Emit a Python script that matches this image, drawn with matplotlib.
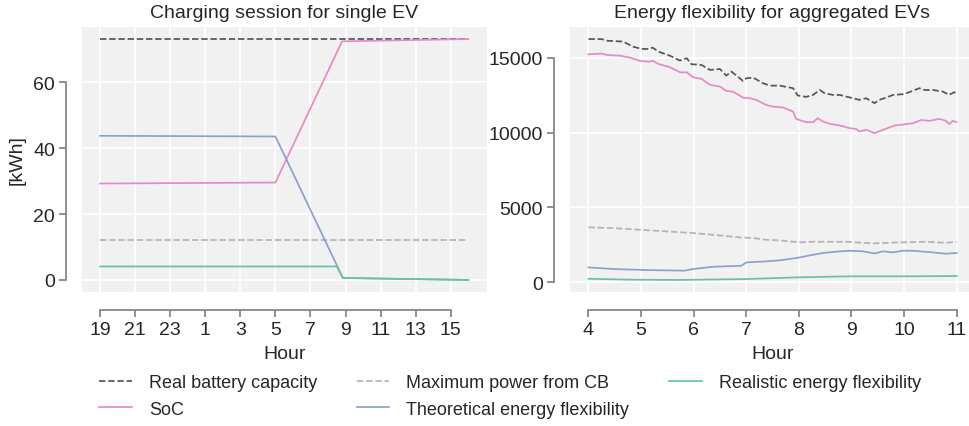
import matplotlib
matplotlib.use('Agg')
import matplotlib.pyplot as plt
import numpy as np

plt.rcParams['font.family'] = ['Liberation Sans', 'DejaVu Sans']
plt.rcParams['text.color'] = '#262626'
plt.rcParams['axes.labelcolor'] = '#262626'
plt.rcParams['xtick.color'] = '#262626'
plt.rcParams['ytick.color'] = '#262626'

# colours
C_CAP = '#555555'
C_CB = '#b3b3b3'
C_SOC = '#e78ac3'
C_THEO = '#8da0cb'
C_REAL = '#66c2a5'

# --- single EV session (hours, next day continues past 24) ---
cap_x = [19, 40]
cap_single = [73.2, 73.2]
cb_x = [19, 40]
cb_single = [12.2, 12.2]
soc_x = [19, 29, 32.8, 40]
soc_single = [29.3, 29.6, 72.5, 73.2]
theo_x = [19, 29, 32.85, 40]
theo_single = [43.8, 43.6, 0.6, 0.0]
real_x = [19, 32.5, 32.85, 40]
real_single = [4.1, 4.1, 0.6, 0.0]
single_ticks = list(range(19, 40, 2))
single_ticklabels = [str(h % 24) for h in single_ticks]

# --- aggregated EVs ---
cap_agg_x = [4.0, 4.25, 4.35, 4.66, 4.85, 5.01, 5.14, 5.22, 5.33, 5.55, 5.74, 5.87,
             5.96, 6.15, 6.31, 6.50, 6.62, 6.72, 6.94, 7.00, 7.13, 7.32, 7.45, 7.64,
             7.89, 7.98, 8.14, 8.27, 8.40, 8.49, 8.65, 8.78, 8.90, 9.03, 9.15, 9.28,
             9.44, 9.53, 9.66, 9.79, 9.98, 10.10, 10.29, 10.39, 10.55, 10.74, 10.86,
             10.95, 11.0]
cap_agg = [16240, 16240, 16130, 16070, 15730, 15580, 15580, 15670, 15400, 15130, 14800, 14960,
           14560, 14510, 14180, 14240, 13800, 14070, 13440, 13620, 13670, 13290, 13130, 13130,
           12960, 12470, 12380, 12510, 12840, 12620, 12510, 12510, 12400, 12290, 12180, 12290,
           11960, 12180, 12330, 12510, 12560, 12690, 12960, 12840, 12840, 12730, 12510,
           12690, 12620]

soc_agg_x = [4.0, 4.25, 4.35, 4.60, 4.79, 4.98, 5.14, 5.23, 5.33, 5.55, 5.74, 5.87,
             5.99, 6.15, 6.31, 6.50, 6.62, 6.75, 6.94, 7.07, 7.19, 7.38, 7.51, 7.70,
             7.89, 7.95, 8.14, 8.27, 8.36, 8.46, 8.62, 8.78, 8.97, 9.09, 9.15, 9.28,
             9.44, 9.60, 9.82, 10.04, 10.17, 10.33, 10.48, 10.67, 10.80, 10.86, 10.93,
             11.0]
soc_agg = [15220, 15270, 15180, 15130, 15000, 14780, 14730, 14780, 14580, 14360, 14020, 14020,
           13690, 13580, 13180, 13070, 12780, 12730, 12330, 12290, 12180, 11840, 11730, 11670,
           11400, 10910, 10690, 10690, 10960, 10730, 10560, 10470, 10290, 10240, 10070, 10180,
           9960, 10180, 10470, 10560, 10620, 10840, 10780, 10910, 10780, 10560, 10780,
           10690]

cb_agg_x = [4.0, 4.47, 4.98, 5.49, 5.99, 6.50, 6.88, 7.13, 7.38, 7.64, 8.02, 8.27,
            8.90, 9.41, 9.91, 10.42, 10.80, 11.0]
cb_agg = [3670, 3620, 3510, 3400, 3290, 3130, 3000, 2960, 2840, 2800, 2670, 2710,
          2710, 2600, 2670, 2710, 2640, 2710]

theo_agg_x = [4.0, 4.47, 5.11, 5.83, 5.99, 6.37, 6.91, 7.00, 7.38, 7.64, 7.95, 8.11,
              8.27, 8.46, 8.78, 8.97, 9.22, 9.44, 9.60, 9.79, 9.98, 10.17, 10.48, 10.80,
              11.0]
theo_agg = [1000, 890, 820, 780, 890, 1040, 1110, 1330, 1400, 1470, 1620, 1730,
            1840, 1960, 2070, 2110, 2070, 1930, 2070, 2000, 2110, 2110, 2020, 1910,
            1960]

real_agg_x = [4.0, 4.79, 5.74, 7.0, 7.95, 8.90, 9.85, 11.0]
real_agg = [240, 180, 160, 220, 330, 400, 400, 420]

FS = 14
fig = plt.figure(figsize=(9.69, 4.27), dpi=100)
W, H = 969, 427
ax1 = fig.add_axes([81.7 / W, 1 - 293 / H, 405 / W, 265 / H])
ax2 = fig.add_axes([570 / W, 1 - 293 / H, 405 / W, 265 / H])

lw = 1.25
for ax in (ax1, ax2):
    ax.set_facecolor('#f1f1f1')
    ax.grid(True, color='white', linewidth=1.3)
    ax.set_axisbelow(True)
    for s in ('top', 'right'):
        ax.spines[s].set_visible(False)
    ax.spines['left'].set_position(('outward', 11.3))
    ax.spines['bottom'].set_position(('outward', 12.7))
    for s in ('left', 'bottom'):
        ax.spines[s].set_color('#888888')
        ax.spines[s].set_linewidth(1.3)
    ax.tick_params(axis='both', labelsize=FS, length=5, width=1.3, color='#888888', pad=3)

ax1.plot(cap_x, cap_single, '--', color=C_CAP, lw=lw, label='Real battery capacity')
ax1.plot(soc_x, soc_single, '-', color=C_SOC, lw=lw, label='SoC')
ax1.plot(cb_x, cb_single, '--', color=C_CB, lw=lw, label='Maximum power from CB')
ax1.plot(theo_x, theo_single, '-', color=C_THEO, lw=lw, label='Theoretical energy flexibility')
ax1.plot(real_x, real_single, '-', color=C_REAL, lw=lw, label='Realistic energy flexibility')
ax1.set_xticks(single_ticks)
ax1.set_xticklabels(single_ticklabels)
ax1.set_yticks([0, 20, 40, 60])
ax1.spines['left'].set_bounds(0, 60)
ax1.spines['bottom'].set_bounds(19, 39)
ax1.set_xlabel('Hour', fontsize=FS, labelpad=5)
ax1.set_ylabel('[kWh]', fontsize=FS, labelpad=5)
ax1.set_title('Charging session for single EV', fontsize=FS, pad=7)

ax2.plot(cap_agg_x, cap_agg, '--', color=C_CAP, lw=lw)
ax2.plot(soc_agg_x, soc_agg, '-', color=C_SOC, lw=lw)
ax2.plot(cb_agg_x, cb_agg, '--', color=C_CB, lw=lw)
ax2.plot(theo_agg_x, theo_agg, '-', color=C_THEO, lw=lw)
ax2.plot(real_agg_x, real_agg, '-', color=C_REAL, lw=lw)
ax2.set_xticks(range(4, 12))
ax2.set_yticks([0, 5000, 10000, 15000])
ax2.spines['left'].set_bounds(0, 15000)
ax2.spines['bottom'].set_bounds(4, 11)
ax2.set_xlabel('Hour', fontsize=FS, labelpad=5)
ax2.set_title('Energy flexibility for aggregated EVs', fontsize=FS, pad=7)

handles, labels = ax1.get_legend_handles_labels()
fig.legend(handles, labels, ncol=3, loc='center', bbox_to_anchor=(510 / W, 1 - 397 / H),
           frameon=False, fontsize=13, handlelength=1.8, handletextpad=0.95,
           columnspacing=2.2, labelspacing=0.5)

fig.savefig('out.png', dpi=100)
